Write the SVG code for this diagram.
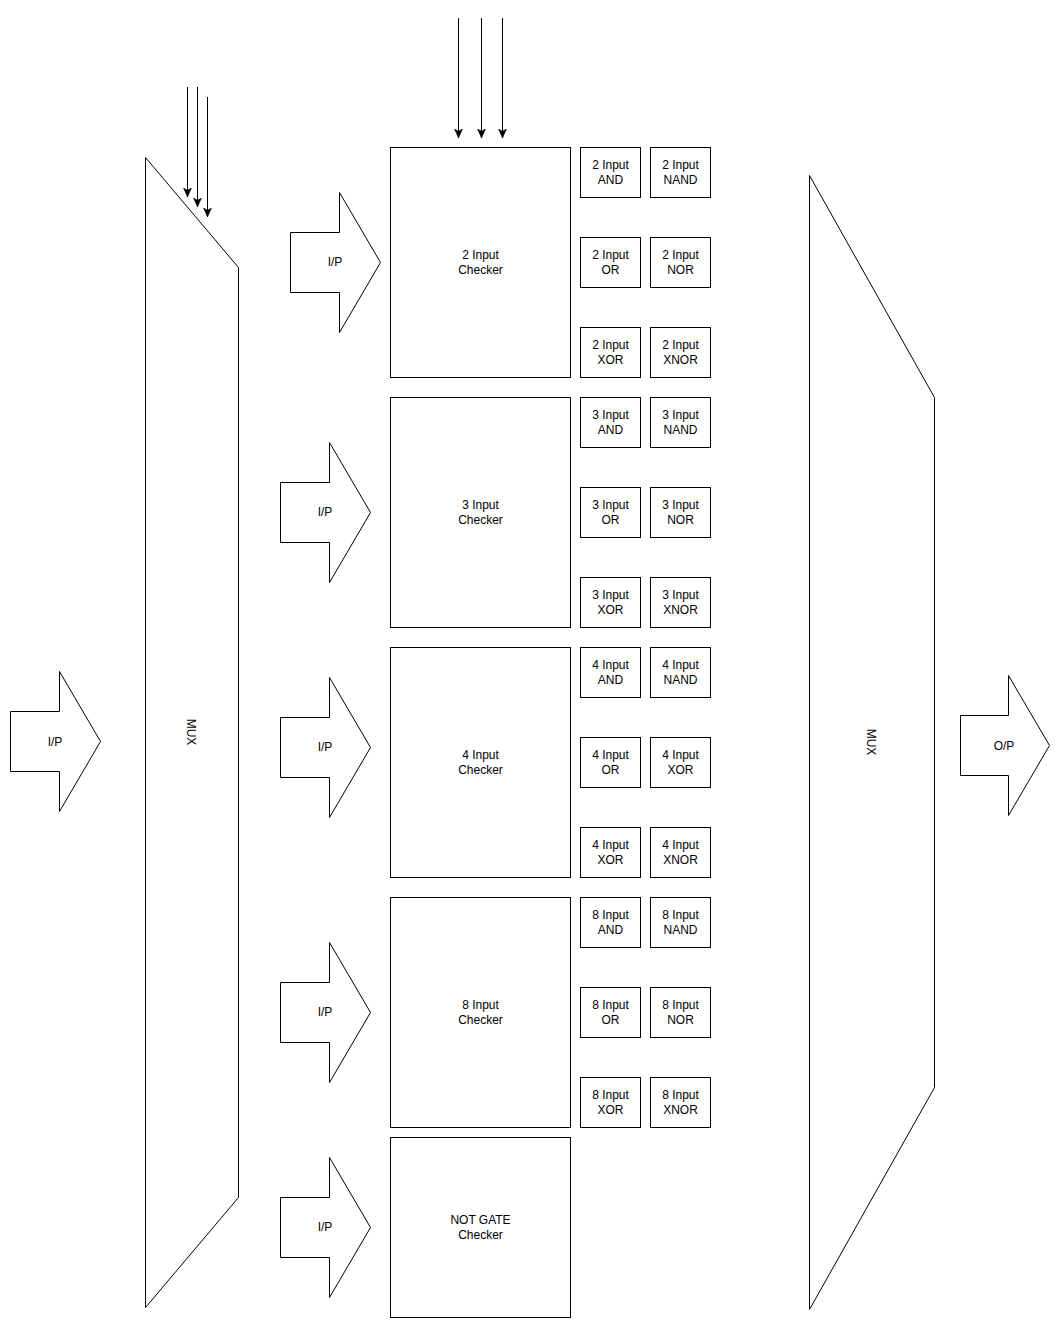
<svg xmlns="http://www.w3.org/2000/svg" width="1060" height="1344" viewBox="0 0 1060 1344">
<style>
.s{fill:#fff;stroke:#000;stroke-width:1}
.t{font-family:"Liberation Sans",Arial,Helvetica,sans-serif;font-size:12px;fill:#000;text-anchor:middle}
.c{stroke:#000;stroke-width:1;fill:none;marker-end:url(#ah)}
</style>
<defs>
<marker id="ah" viewBox="0 0 10 10" refX="10" refY="5" markerWidth="9" markerHeight="9" markerUnits="userSpaceOnUse" orient="auto">
<path d="M0,0.6 L10,5 L0,9.4 L2.5,5 Z" fill="#000" stroke="#000" stroke-width="0.6"/>
</marker>
</defs>
<rect width="1060" height="1344" fill="#fff"/>

<g id="mux-in">
<polygon class="s" points="145.5,157.5 238.5,267.5 238.5,1197.5 145.5,1307.5"/>
<text class="t" transform="translate(191.5,732) rotate(90)" x="0" y="4.3">MUX</text>
</g>
<g id="mux-out">
<polygon class="s" points="809.5,175.5 934.5,397.5 934.5,1087.5 809.5,1309.5"/>
<text class="t" transform="translate(871.5,742) rotate(90)" x="0" y="4.3">MUX</text>
</g>

<g id="ip-main">
<polygon class="s" points="10.5,711.5 59.5,711.5 59.5,671.5 100.5,741.5 59.5,811.5 59.5,771.5 10.5,771.5"/>
<text class="t" x="55" y="745.5">I/P</text>
</g>
<g id="op-main">
<polygon class="s" points="960.5,715.5 1008.5,715.5 1008.5,675.5 1049.5,745.5 1008.5,815.5 1008.5,775.5 960.5,775.5"/>
<text class="t" x="1004" y="749.5">O/P</text>
</g>

<g id="ip-2">
<polygon class="s" points="290.5,232.5 339.5,232.5 339.5,192.5 380.5,262.5 339.5,332.5 339.5,292.5 290.5,292.5"/>
<text class="t" x="335" y="266.3">I/P</text>
</g>
<g id="ip-3">
<polygon class="s" points="280.5,482.5 329.5,482.5 329.5,442.5 370.5,512.5 329.5,582.5 329.5,542.5 280.5,542.5"/>
<text class="t" x="325" y="516.3">I/P</text>
</g>
<g id="ip-4">
<polygon class="s" points="280.5,717.5 329.5,717.5 329.5,677.5 370.5,747.5 329.5,817.5 329.5,777.5 280.5,777.5"/>
<text class="t" x="325" y="751.3">I/P</text>
</g>
<g id="ip-8">
<polygon class="s" points="280.5,982.5 329.5,982.5 329.5,942.5 370.5,1012.5 329.5,1082.5 329.5,1042.5 280.5,1042.5"/>
<text class="t" x="325" y="1016.3">I/P</text>
</g>
<g id="ip-not">
<polygon class="s" points="280.5,1197.5 329.5,1197.5 329.5,1157.5 370.5,1227.5 329.5,1297.5 329.5,1257.5 280.5,1257.5"/>
<text class="t" x="325" y="1231.3">I/P</text>
</g>

<g id="checker-2">
<rect class="s" x="390.5" y="147.5" width="180" height="230"/>
<text class="t" x="480.5" y="259.2">2 Input</text>
<text class="t" x="480.5" y="273.6">Checker</text>
</g>
<g id="checker-3">
<rect class="s" x="390.5" y="397.5" width="180" height="230"/>
<text class="t" x="480.5" y="509.2">3 Input</text>
<text class="t" x="480.5" y="523.6">Checker</text>
</g>
<g id="checker-4">
<rect class="s" x="390.5" y="647.5" width="180" height="230"/>
<text class="t" x="480.5" y="759.2">4 Input</text>
<text class="t" x="480.5" y="773.6">Checker</text>
</g>
<g id="checker-8">
<rect class="s" x="390.5" y="897.5" width="180" height="230"/>
<text class="t" x="480.5" y="1009.2">8 Input</text>
<text class="t" x="480.5" y="1023.6">Checker</text>
</g>
<g id="checker-not">
<rect class="s" x="390.5" y="1137.5" width="180" height="180"/>
<text class="t" x="480.5" y="1224.2">NOT GATE</text>
<text class="t" x="480.5" y="1238.6">Checker</text>
</g>

<g id="and2"><rect class="s" x="580.5" y="147.5" width="60" height="50"/><text class="t" x="610.5" y="169.2">2 Input</text><text class="t" x="610.5" y="183.6">AND</text></g>
<g id="nand2"><rect class="s" x="650.5" y="147.5" width="60" height="50"/><text class="t" x="680.5" y="169.2">2 Input</text><text class="t" x="680.5" y="183.6">NAND</text></g>
<g id="or2"><rect class="s" x="580.5" y="237.5" width="60" height="50"/><text class="t" x="610.5" y="259.2">2 Input</text><text class="t" x="610.5" y="273.6">OR</text></g>
<g id="nor2"><rect class="s" x="650.5" y="237.5" width="60" height="50"/><text class="t" x="680.5" y="259.2">2 Input</text><text class="t" x="680.5" y="273.6">NOR</text></g>
<g id="xor2"><rect class="s" x="580.5" y="327.5" width="60" height="50"/><text class="t" x="610.5" y="349.2">2 Input</text><text class="t" x="610.5" y="363.6">XOR</text></g>
<g id="xnor2"><rect class="s" x="650.5" y="327.5" width="60" height="50"/><text class="t" x="680.5" y="349.2">2 Input</text><text class="t" x="680.5" y="363.6">XNOR</text></g>

<g id="and3"><rect class="s" x="580.5" y="397.5" width="60" height="50"/><text class="t" x="610.5" y="419.2">3 Input</text><text class="t" x="610.5" y="433.6">AND</text></g>
<g id="nand3"><rect class="s" x="650.5" y="397.5" width="60" height="50"/><text class="t" x="680.5" y="419.2">3 Input</text><text class="t" x="680.5" y="433.6">NAND</text></g>
<g id="or3"><rect class="s" x="580.5" y="487.5" width="60" height="50"/><text class="t" x="610.5" y="509.2">3 Input</text><text class="t" x="610.5" y="523.6">OR</text></g>
<g id="nor3"><rect class="s" x="650.5" y="487.5" width="60" height="50"/><text class="t" x="680.5" y="509.2">3 Input</text><text class="t" x="680.5" y="523.6">NOR</text></g>
<g id="xor3"><rect class="s" x="580.5" y="577.5" width="60" height="50"/><text class="t" x="610.5" y="599.2">3 Input</text><text class="t" x="610.5" y="613.6">XOR</text></g>
<g id="xnor3"><rect class="s" x="650.5" y="577.5" width="60" height="50"/><text class="t" x="680.5" y="599.2">3 Input</text><text class="t" x="680.5" y="613.6">XNOR</text></g>

<g id="and4"><rect class="s" x="580.5" y="647.5" width="60" height="50"/><text class="t" x="610.5" y="669.2">4 Input</text><text class="t" x="610.5" y="683.6">AND</text></g>
<g id="nand4"><rect class="s" x="650.5" y="647.5" width="60" height="50"/><text class="t" x="680.5" y="669.2">4 Input</text><text class="t" x="680.5" y="683.6">NAND</text></g>
<g id="or4"><rect class="s" x="580.5" y="737.5" width="60" height="50"/><text class="t" x="610.5" y="759.2">4 Input</text><text class="t" x="610.5" y="773.6">OR</text></g>
<g id="xor4a"><rect class="s" x="650.5" y="737.5" width="60" height="50"/><text class="t" x="680.5" y="759.2">4 Input</text><text class="t" x="680.5" y="773.6">XOR</text></g>
<g id="xor4b"><rect class="s" x="580.5" y="827.5" width="60" height="50"/><text class="t" x="610.5" y="849.2">4 Input</text><text class="t" x="610.5" y="863.6">XOR</text></g>
<g id="xnor4"><rect class="s" x="650.5" y="827.5" width="60" height="50"/><text class="t" x="680.5" y="849.2">4 Input</text><text class="t" x="680.5" y="863.6">XNOR</text></g>

<g id="and8"><rect class="s" x="580.5" y="897.5" width="60" height="50"/><text class="t" x="610.5" y="919.2">8 Input</text><text class="t" x="610.5" y="933.6">AND</text></g>
<g id="nand8"><rect class="s" x="650.5" y="897.5" width="60" height="50"/><text class="t" x="680.5" y="919.2">8 Input</text><text class="t" x="680.5" y="933.6">NAND</text></g>
<g id="or8"><rect class="s" x="580.5" y="987.5" width="60" height="50"/><text class="t" x="610.5" y="1009.2">8 Input</text><text class="t" x="610.5" y="1023.6">OR</text></g>
<g id="nor8"><rect class="s" x="650.5" y="987.5" width="60" height="50"/><text class="t" x="680.5" y="1009.2">8 Input</text><text class="t" x="680.5" y="1023.6">NOR</text></g>
<g id="xor8"><rect class="s" x="580.5" y="1077.5" width="60" height="50"/><text class="t" x="610.5" y="1099.2">8 Input</text><text class="t" x="610.5" y="1113.6">XOR</text></g>
<g id="xnor8"><rect class="s" x="650.5" y="1077.5" width="60" height="50"/><text class="t" x="680.5" y="1099.2">8 Input</text><text class="t" x="680.5" y="1113.6">XNOR</text></g>

<g id="connectors">
<line class="c" x1="187.5" y1="87" x2="187.5" y2="197"/>
<line class="c" x1="197.5" y1="87" x2="197.5" y2="207"/>
<line class="c" x1="207.5" y1="97" x2="207.5" y2="217"/>
<line class="c" x1="458.5" y1="18" x2="458.5" y2="138"/>
<line class="c" x1="481.5" y1="18" x2="481.5" y2="138"/>
<line class="c" x1="502.5" y1="18" x2="502.5" y2="138"/>
</g>
</svg>
